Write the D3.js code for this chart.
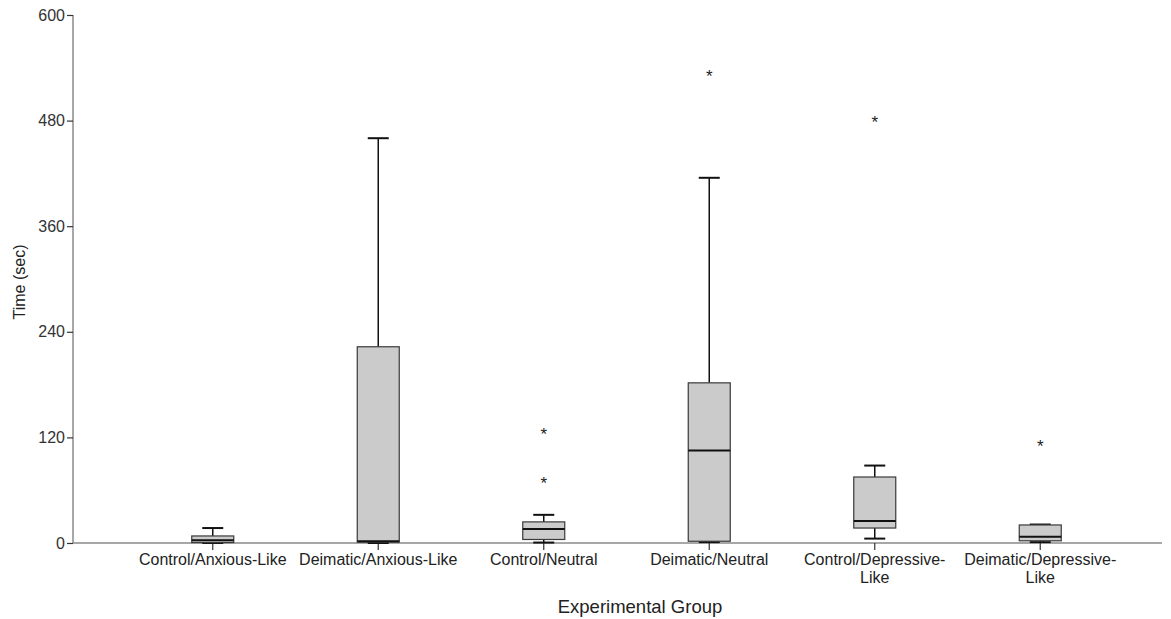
<!DOCTYPE html>
<html>
<head>
<meta charset="utf-8">
<script src="https://cdn.jsdelivr.net/npm/d3@7"></script>
<style>
  html, body { margin: 0; padding: 0; background: #ffffff; }
  svg { display: block; font-family: "Liberation Sans", Arial, sans-serif; }
</style>
</head>
<body>
<svg id="chart" width="1171" height="619"></svg>
<script>
// Time spent per experimental group (seconds), five-number summaries
const categories = [
  "Control/Anxious-Like",
  "Deimatic/Anxious-Like",
  "Control/Neutral",
  "Deimatic/Neutral",
  "Control/Depressive-Like",
  "Deimatic/Depressive-Like"
];
const whiskerLow  = [0,   0,   0.5, 1,   5,  1];
const quartile1   = [0.5, 1,   4,   2,   17, 2.5];
const medians     = [3,   2,   16,  105, 25, 7];
const quartile3   = [8,   223, 24,  182, 75, 20.5];
const whiskerHigh = [17,  460, 32,  415, 88, 21];
// Extreme values, one list per group
const extremes = [[], [], [71, 126], [533], [481], [113]];
const yTicks = [0, 120, 240, 360, 480, 600];

const svg = d3.select("#chart");
const plotLeft = 73, plotRight = 1162, plotTop = 15, plotBottom = 543;

const y = d3.scaleLinear().domain([0, 600]).range([plotBottom, plotTop]);
const x = d3.scaleBand().domain(categories).range([130, 1123]).padding(0);
const cx = c => x(c) + x.bandwidth() / 2;
const boxW = 42, capW = 21;

const rows = categories.map((c, i) => ({
  c, lo: whiskerLow[i], q1: quartile1[i], med: medians[i],
  q3: quartile3[i], hi: whiskerHigh[i], ext: extremes[i]
}));

// Y axis
const yAxis = svg.append("g")
  .attr("transform", `translate(${plotLeft},0)`)
  .call(d3.axisLeft(y).tickValues(yTicks).tickSize(6).tickPadding(2));
yAxis.select(".domain").attr("stroke", "#8a8a8a").attr("stroke-width", 1.5)
  .attr("d", `M0,${plotTop}V${plotBottom}`);
yAxis.selectAll(".tick line").attr("stroke", "#333").attr("stroke-width", 1.2);
yAxis.selectAll(".tick text").attr("fill", "#333").style("font-size", "16px");

// X axis
const xAxis = svg.append("g")
  .attr("transform", `translate(0,${plotBottom})`)
  .call(d3.axisBottom(x).tickSize(7).tickPadding(4));
xAxis.select(".domain").attr("stroke", "#8a8a8a").attr("stroke-width", 1.5)
  .attr("d", `M${plotLeft},0H${plotRight}`);
xAxis.selectAll(".tick line").attr("stroke", "#333").attr("stroke-width", 1.2);
xAxis.selectAll(".tick text").attr("fill", "#222").style("font-size", "16px")
  .each(function (d) {
    const t = d3.select(this);
    if (this.getComputedTextLength() > x.bandwidth() - 4) {
      const cut = d.lastIndexOf("-") + 1;
      const first = d.slice(0, cut), second = d.slice(cut);
      t.text(null);
      t.append("tspan").attr("x", 0).text(first);
      t.append("tspan").attr("x", 0).attr("dy", "1.1em").text(second);
    }
  });

// Boxes
const g = svg.append("g");
const box = g.selectAll("g.box").data(rows).join("g").attr("class", "box");

box.append("line")
  .attr("x1", d => cx(d.c)).attr("x2", d => cx(d.c))
  .attr("y1", d => y(d.hi)).attr("y2", d => y(d.q3))
  .attr("stroke", "#111").attr("stroke-width", 1.5);
box.append("line")
  .attr("x1", d => cx(d.c)).attr("x2", d => cx(d.c))
  .attr("y1", d => y(d.q1)).attr("y2", d => y(d.lo))
  .attr("stroke", "#111").attr("stroke-width", 1.5);
box.append("line")
  .attr("x1", d => cx(d.c) - capW / 2).attr("x2", d => cx(d.c) + capW / 2)
  .attr("y1", d => y(d.hi)).attr("y2", d => y(d.hi))
  .attr("stroke", "#111").attr("stroke-width", 2);
box.append("line")
  .attr("x1", d => cx(d.c) - capW / 2).attr("x2", d => cx(d.c) + capW / 2)
  .attr("y1", d => y(d.lo)).attr("y2", d => y(d.lo))
  .attr("stroke", "#111").attr("stroke-width", 2);
box.append("rect")
  .attr("x", d => cx(d.c) - boxW / 2).attr("width", boxW)
  .attr("y", d => y(d.q3)).attr("height", d => y(d.q1) - y(d.q3))
  .attr("fill", "#cbcbcb").attr("stroke", "#3a3a3a").attr("stroke-width", 1.2);
box.append("line")
  .attr("x1", d => cx(d.c) - boxW / 2).attr("x2", d => cx(d.c) + boxW / 2)
  .attr("y1", d => y(d.med)).attr("y2", d => y(d.med))
  .attr("stroke", "#111").attr("stroke-width", 2);

// Extreme values drawn as asterisks
box.each(function (d) {
  d3.select(this).selectAll("text.ext").data(d.ext).join("text")
    .attr("class", "ext")
    .attr("x", cx(d.c)).attr("y", v => y(v) + 8)
    .attr("text-anchor", "middle")
    .attr("fill", "#222").style("font-size", "17px")
    .text("*");
});

// Axis titles
svg.append("text")
  .attr("x", 640).attr("y", 613)
  .attr("text-anchor", "middle").attr("fill", "#222").style("font-size", "18.5px")
  .text("Experimental Group");
svg.append("text")
  .attr("transform", `translate(25,282) rotate(-90)`)
  .attr("text-anchor", "middle").attr("fill", "#222").style("font-size", "16px")
  .text("Time (sec)");
</script>
</body>
</html>
